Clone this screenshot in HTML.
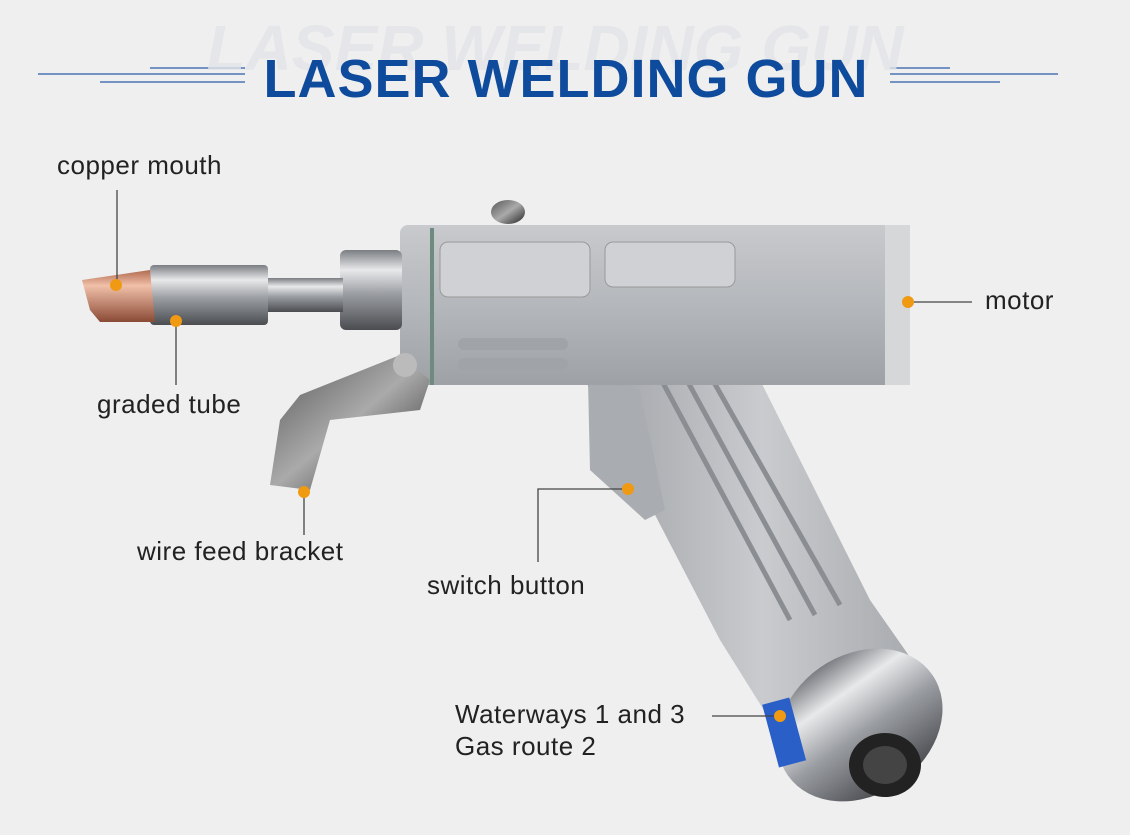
<!DOCTYPE html>
<html><head><meta charset="utf-8"><style>
html,body{margin:0;padding:0;background:#efefef;width:1130px;height:835px;overflow:hidden;font-family:"Liberation Sans",Arial,sans-serif;}
.lbl{position:absolute;font-size:26px;letter-spacing:0.5px;color:#222;white-space:nowrap;}
</style></head><body>
<svg width="1130" height="835" style="position:absolute;left:0;top:0">
<defs>
<linearGradient id="steel" x1="0" y1="0" x2="0" y2="1">
<stop offset="0" stop-color="#7a7d82"/><stop offset="0.25" stop-color="#e8e9ea"/><stop offset="0.55" stop-color="#9a9da2"/><stop offset="1" stop-color="#4a4c50"/></linearGradient>
<linearGradient id="copper" x1="0" y1="0" x2="0" y2="1">
<stop offset="0" stop-color="#b06a50"/><stop offset="0.3" stop-color="#f1c0a8"/><stop offset="1" stop-color="#8a4a35"/></linearGradient>
<linearGradient id="body" x1="0" y1="0" x2="0" y2="1">
<stop offset="0" stop-color="#c8cacd"/><stop offset="0.5" stop-color="#b4b7bb"/><stop offset="1" stop-color="#9ea1a5"/></linearGradient>
<linearGradient id="handle" x1="0" y1="0" x2="1" y2="0">
<stop offset="0" stop-color="#9fa2a6"/><stop offset="0.5" stop-color="#c9cbce"/><stop offset="1" stop-color="#a2a5a9"/></linearGradient>
<linearGradient id="dark" x1="0" y1="0" x2="1" y2="1">
<stop offset="0" stop-color="#555"/><stop offset="0.5" stop-color="#aaa"/><stop offset="1" stop-color="#222"/></linearGradient>
</defs>
<g stroke="#2a5aa8" stroke-width="1.2">
<line x1="38" y1="74" x2="245" y2="74"/><line x1="150" y1="68" x2="245" y2="68"/><line x1="100" y1="82" x2="245" y2="82"/>
<line x1="890" y1="74" x2="1058" y2="74"/><line x1="890" y1="68" x2="950" y2="68"/><line x1="890" y1="82" x2="1000" y2="82"/>
</g>
<text x="555" y="70" text-anchor="middle" font-family="Liberation Sans" font-weight="bold" font-style="italic" font-size="64" fill="#e2e4e8" opacity="0.8">LASER WELDING GUN</text>
<text x="566" y="97" text-anchor="middle" font-family="Liberation Sans" font-weight="bold" font-size="54" letter-spacing="1" fill="#0f4b9c">LASER WELDING GUN</text>

<polygon points="585,380 760,380 870,600 940,700 860,790 770,720 720,640" fill="url(#handle)"/>
<line x1="640" y1="340" x2="790" y2="620" stroke="#8a8d91" stroke-width="5"/>
<line x1="665" y1="340" x2="815" y2="615" stroke="#8a8d91" stroke-width="5"/>
<line x1="690" y1="340" x2="840" y2="605" stroke="#8a8d91" stroke-width="5"/>
<ellipse cx="860" cy="725" rx="88" ry="70" fill="url(#steel)" transform="rotate(-35 860 725)"/>
<ellipse cx="885" cy="765" rx="36" ry="32" fill="#222"/>
<ellipse cx="885" cy="765" rx="22" ry="19" fill="#444"/>
<rect x="770" y="700" width="28" height="65" fill="#2a5fc8" transform="rotate(-15 784 732)"/>
<polygon points="588,380 640,390 665,510 645,520 590,470" fill="#a9acb0"/>
<rect x="400" y="225" width="510" height="160" rx="8" fill="url(#body)"/>
<rect x="885" y="225" width="25" height="160" fill="#d5d7d9"/>
<rect x="440" y="242" width="150" height="55" rx="8" fill="#cfd1d4" stroke="#999" />
<rect x="605" y="242" width="130" height="45" rx="8" fill="#cfd1d4" stroke="#999"/>
<rect x="458" y="338" width="110" height="12" rx="6" fill="#a0a3a7"/>
<rect x="458" y="358" width="110" height="12" rx="6" fill="#a0a3a7"/>
<line x1="432" y1="228" x2="432" y2="385" stroke="#6f8a7f" stroke-width="4"/>
<ellipse cx="508" cy="212" rx="17" ry="12" fill="url(#dark)"/>
<rect x="340" y="250" width="62" height="80" rx="6" fill="url(#steel)"/>
<rect x="265" y="278" width="78" height="34" fill="url(#steel)"/>
<rect x="150" y="265" width="118" height="60" rx="4" fill="url(#steel)"/>
<polygon points="82,280 150,270 155,322 100,322 90,310" fill="url(#copper)"/>
<polygon points="400,355 430,380 420,410 330,420 310,490 270,485 280,420 300,395" fill="url(#dark)"/>
<ellipse cx="405" cy="365" rx="12" ry="12" fill="#bbb"/>

<g stroke="#444" stroke-width="1.3" fill="none">
<line x1="117" y1="190" x2="117" y2="285"/>
<line x1="176" y1="320" x2="176" y2="385"/>
<line x1="304" y1="492" x2="304" y2="535"/>
<polyline points="538,562 538,489 628,489"/>
<line x1="908" y1="302" x2="972" y2="302"/>
<line x1="712" y1="716" x2="780" y2="716"/>
</g>
<g fill="#f09a14">
<circle cx="116" cy="285" r="6"/><circle cx="176" cy="321" r="6"/><circle cx="304" cy="492" r="6"/>
<circle cx="628" cy="489" r="6"/><circle cx="908" cy="302" r="6"/><circle cx="780" cy="716" r="6"/>
</g>
</svg>
<div class="lbl" style="left:57px;top:150px">copper mouth</div>
<div class="lbl" style="left:97px;top:389px">graded tube</div>
<div class="lbl" style="left:137px;top:536px">wire feed bracket</div>
<div class="lbl" style="left:427px;top:570px">switch button</div>
<div class="lbl" style="left:985px;top:285px">motor</div>
<div class="lbl" style="left:455px;top:699px">Waterways 1 and 3</div>
<div class="lbl" style="left:455px;top:731px">Gas route 2</div>
</body></html>
